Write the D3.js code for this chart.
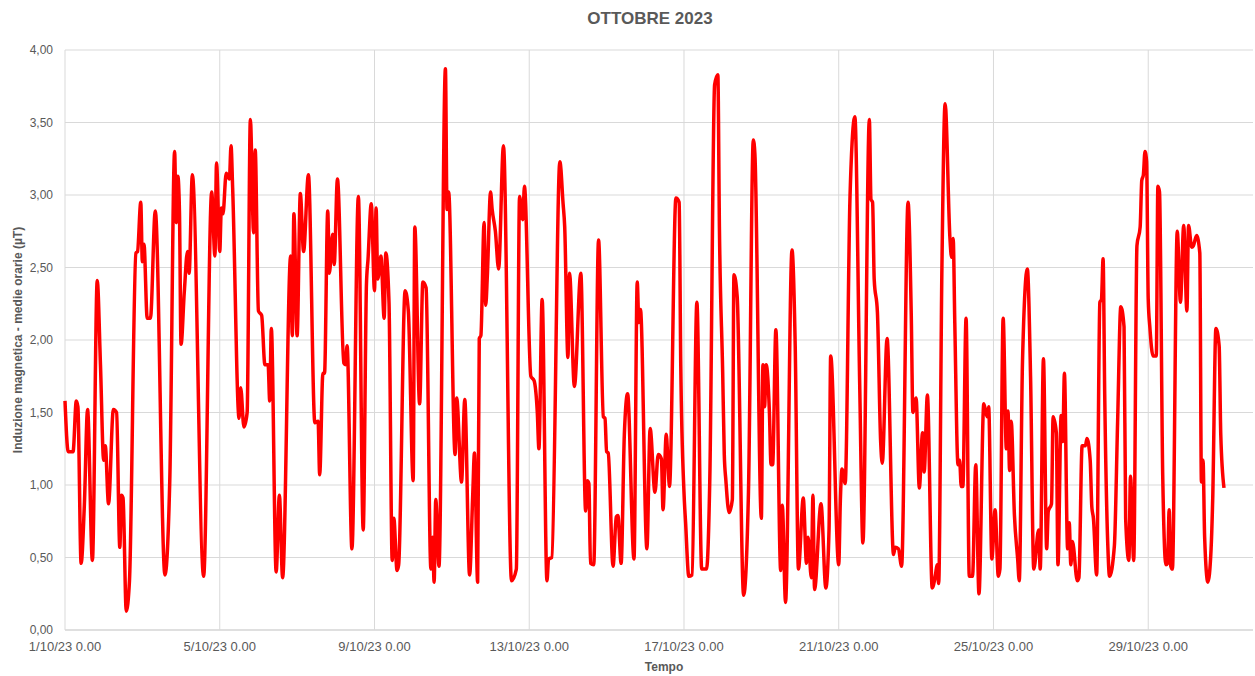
<!DOCTYPE html>
<html>
<head>
<meta charset="utf-8">
<script src="https://cdn.jsdelivr.net/npm/d3@7"></script>
<style>
  body { margin: 0; background: #fff; }
  svg text { font-family: "Liberation Sans", Arial, sans-serif; fill: #595959; }
</style>
</head>
<body>
<div id="chart"></div>
<script>
// hourly means at the turning points (hours since 1/10/23 0.00)
var hours = [0, 2, 5, 7, 8, 10, 12, 14, 17, 20, 22, 24, 25, 27, 30, 32, 34, 35, 36, 38, 40, 44, 45, 47, 48, 49, 51, 53, 56, 62, 65, 68, 69, 70, 71, 72, 74, 76, 77, 79, 86, 91, 93, 94, 96, 97, 98, 100, 102, 103, 104, 108, 109, 111, 113, 115, 117, 118, 120, 122, 124, 126, 127, 128, 131, 133, 135, 140, 141, 142, 144, 146, 148, 151, 155, 157, 158, 160, 161, 163, 164, 166, 167, 169, 173, 174, 175, 178, 182, 185, 187, 188, 190, 192, 193, 194, 196, 198, 199, 201, 203, 204, 206, 207, 211, 213, 216, 217, 220, 222, 224, 227, 228, 229, 230, 232, 236, 237, 238, 242, 243, 246, 248, 251, 253, 254, 256, 257, 258, 260, 261, 262, 264, 265, 267, 269, 272, 277, 280, 282, 284, 285, 289, 291, 293, 294, 296, 299, 300, 302, 307, 309, 310, 312, 313, 316, 320, 323, 324, 325, 326, 328, 331, 334, 335, 336, 337, 340, 342, 343, 345, 347, 349, 353, 355, 356, 357, 361, 363, 366, 368, 370, 371, 373, 374, 375, 379, 381, 382, 384, 385, 387, 389, 392, 395, 398, 400, 403, 405, 406, 408, 409, 410, 412, 414, 415, 417, 421, 424, 427, 428, 432, 433, 434, 435, 437, 438, 439, 441, 444, 445, 447, 451, 453, 455, 458, 460, 461, 463, 464, 465, 469, 472, 474, 475, 480, 481, 482, 484, 487, 490, 493, 495, 499, 500, 501, 502, 504, 506, 507, 510, 514, 515, 517, 519, 523, 525, 526, 528, 530, 532, 533, 535, 538, 540, 541, 542, 544, 546, 549, 550, 551, 552, 554, 555, 556, 557, 559, 561, 563, 565, 567, 570, 572, 573, 575, 577, 579, 580, 582, 584, 585, 586, 587, 589, 591, 592, 594, 597, 599, 601, 604, 605, 607, 609, 610, 612, 613, 615, 616, 618, 619, 620, 622, 623, 624, 625, 628, 629, 631, 633, 634, 636, 637, 638, 640, 642, 643, 644, 645, 647, 648, 651, 653, 655, 657, 658, 660, 661, 663, 665, 667, 668, 669, 670, 671, 672, 673, 675, 677, 678, 679, 681, 683, 684, 685, 686, 687, 690, 692, 694, 696, 697, 699, 700, 702, 704, 705, 706, 707, 709, 711, 712, 714, 716, 717, 719];
var values = [1.58, 1.23, 1.23, 1.58, 1.54, 0.46, 0.86, 1.52, 0.48, 2.41, 1.83, 1.17, 1.27, 0.87, 1.52, 1.50, 0.57, 0.93, 0.91, 0.13, 0.34, 2.60, 2.61, 2.95, 2.54, 2.66, 2.15, 2.15, 2.89, 0.38, 1.03, 3.30, 2.81, 3.13, 2.89, 1.97, 2.33, 2.61, 2.46, 3.14, 0.37, 3.02, 2.58, 3.22, 2.61, 2.91, 2.87, 3.15, 3.11, 3.34, 3.05, 1.46, 1.67, 1.40, 1.50, 3.52, 2.74, 3.31, 2.20, 2.17, 1.83, 1.83, 1.58, 2.08, 0.40, 0.93, 0.36, 2.58, 2.03, 2.87, 2.03, 3.01, 2.61, 3.14, 1.43, 1.44, 1.07, 1.77, 1.77, 2.89, 2.46, 2.73, 2.52, 3.11, 1.84, 1.83, 1.96, 0.56, 2.99, 0.69, 2.38, 2.56, 2.94, 2.34, 2.91, 2.42, 2.58, 2.15, 2.60, 2.26, 0.48, 0.77, 0.41, 0.45, 2.34, 2.20, 1.03, 2.78, 1.56, 2.40, 2.36, 0.42, 0.64, 0.33, 0.90, 0.44, 3.87, 2.90, 3.02, 1.21, 1.60, 1.02, 1.59, 0.38, 0.95, 1.22, 0.33, 2.01, 2.03, 2.81, 2.24, 2.44, 3.02, 2.90, 2.75, 2.49, 3.34, 0.34, 0.42, 2.99, 2.83, 3.06, 1.75, 1.72, 1.50, 1.25, 2.28, 0.34, 0.49, 0.50, 3.23, 2.94, 2.78, 1.88, 2.46, 1.68, 2.46, 0.82, 1.03, 1.01, 0.46, 0.45, 2.69, 1.47, 1.46, 1.23, 1.22, 0.44, 0.78, 0.79, 0.46, 1.35, 1.63, 0.49, 2.40, 2.12, 2.21, 0.56, 1.39, 0.95, 1.21, 1.18, 0.83, 1.35, 1.17, 0.99, 2.98, 2.95, 1.83, 0.95, 0.74, 0.37, 0.38, 2.26, 0.42, 0.42, 1.03, 3.76, 3.83, 2.76, 1.78, 1.21, 1.03, 0.81, 0.90, 2.45, 2.30, 0.24, 0.95, 3.38, 3.28, 0.77, 1.83, 1.54, 1.83, 1.50, 1.14, 1.14, 2.07, 0.41, 0.86, 0.19, 2.62, 1.96, 0.42, 0.91, 0.46, 0.64, 0.36, 0.93, 0.28, 0.87, 0.29, 0.70, 1.89, 0.45, 0.89, 1.11, 1.01, 2.99, 3.54, 1.70, 0.60, 3.52, 2.97, 2.95, 2.42, 2.19, 1.30, 1.15, 2.01, 0.52, 0.57, 0.56, 0.44, 2.95, 2.17, 1.50, 1.60, 0.98, 1.36, 1.09, 1.62, 0.29, 0.38, 0.45, 0.32, 2.49, 3.63, 2.70, 2.57, 2.70, 2.12, 1.14, 1.17, 0.99, 0.99, 2.15, 0.37, 0.37, 1.14, 0.25, 1.56, 1.47, 1.54, 0.49, 0.83, 0.37, 0.42, 2.15, 1.25, 1.51, 1.10, 1.44, 0.79, 0.49, 0.34, 1.85, 2.49, 1.75, 0.42, 0.69, 0.42, 1.87, 0.56, 0.82, 0.87, 1.47, 1.36, 0.45, 1.48, 1.30, 1.77, 0.56, 0.74, 0.45, 0.61, 0.34, 0.36, 1.27, 1.27, 1.32, 1.17, 0.85, 0.77, 0.38, 2.26, 2.28, 2.56, 1.63, 0.56, 0.37, 0.58, 1.43, 2.23, 2.09, 0.77, 0.48, 1.06, 0.48, 2.65, 2.78, 3.10, 3.14, 3.30, 3.23, 2.28, 2.09, 1.89, 1.89, 3.06, 3.02, 1.06, 0.45, 0.46, 0.83, 0.44, 0.42, 2.75, 2.26, 2.79, 2.20, 2.79, 2.64, 2.65, 2.72, 2.60, 1.02, 1.17, 0.64, 0.33, 0.56, 0.90, 2.08, 1.96, 1.35, 0.98];

var tickDays = [1, 5, 9, 13, 17, 21, 25, 29];
var yTicks = [0, 0.5, 1, 1.5, 2, 2.5, 3, 3.5, 4];
var title = "OTTOBRE 2023";
var yTitle = "Induzione magnetica - medie orarie (µT)";
var xTitle = "Tempo";

var width = 1255,
    height = 676,
    margin = { top: 50, right: 2, bottom: 46, left: 65 },
    lastHour = 737;

var data = hours.map(function (h, i) { return { h: h, v: values[i] }; });

var svg = d3.select("#chart").append("svg")
    .attr("width", width)
    .attr("height", height);

var x = d3.scaleLinear().domain([0, lastHour]).range([margin.left, width - margin.right]);
var y = d3.scaleLinear().domain([0, 4]).range([height - margin.bottom, margin.top]);

// horizontal grid
svg.append("g")
    .selectAll("line").data(yTicks).enter()
    .append("line")
    .attr("x1", x(0)).attr("x2", x(lastHour))
    .attr("y1", function (d) { return y(d); })
    .attr("y2", function (d) { return y(d); })
    .style("stroke", function (d) { return d === 0 ? "#bfbfbf" : "#d9d9d9"; })
    .style("stroke-width", 1);

// vertical grid, one every 4 days
svg.append("g")
    .selectAll("line").data(tickDays).enter()
    .append("line")
    .attr("x1", function (d) { return x((d - 1) * 24); })
    .attr("x2", function (d) { return x((d - 1) * 24); })
    .attr("y1", y(4)).attr("y2", y(0))
    .style("stroke", "#d9d9d9")
    .style("stroke-width", 1);

// y tick labels
svg.append("g")
    .selectAll("text").data(yTicks).enter()
    .append("text")
    .attr("x", margin.left - 12)
    .attr("y", function (d) { return y(d); })
    .attr("dy", "0.35em")
    .attr("text-anchor", "end")
    .style("font-size", "12px")
    .text(function (d) { return d3.format(".2f")(d).replace(".", ","); });

// x tick labels
svg.append("g")
    .selectAll("text").data(tickDays).enter()
    .append("text")
    .attr("x", function (d) { return x((d - 1) * 24); })
    .attr("y", y(0) + 21)
    .attr("text-anchor", "middle")
    .style("font-size", "13px")
    .text(function (d) { return d + "/10/23 0.00"; });

// the series
var line = d3.line()
    .x(function (d) { return x(d.h); })
    .y(function (d) { return y(d.v); })
    .curve(d3.curveMonotoneX);

svg.append("path")
    .datum(data)
    .attr("d", line)
    .style("fill", "none")
    .style("stroke", "#ff0000")
    .style("stroke-width", 3.5)
    .style("stroke-linejoin", "round");

// titles
svg.append("text")
    .attr("x", 650).attr("y", 24)
    .attr("text-anchor", "middle")
    .style("font-size", "17px")
    .style("font-weight", "bold")
    .text(title);

svg.append("text")
    .attr("transform", "translate(22," + ((y(0) + y(4)) / 2) + ") rotate(-90)")
    .attr("text-anchor", "middle")
    .style("font-size", "12px")
    .style("font-weight", "bold")
    .text(yTitle);

svg.append("text")
    .attr("x", 664).attr("y", 671)
    .attr("text-anchor", "middle")
    .style("font-size", "12px")
    .style("font-weight", "bold")
    .text(xTitle);
</script>
</body>
</html>
